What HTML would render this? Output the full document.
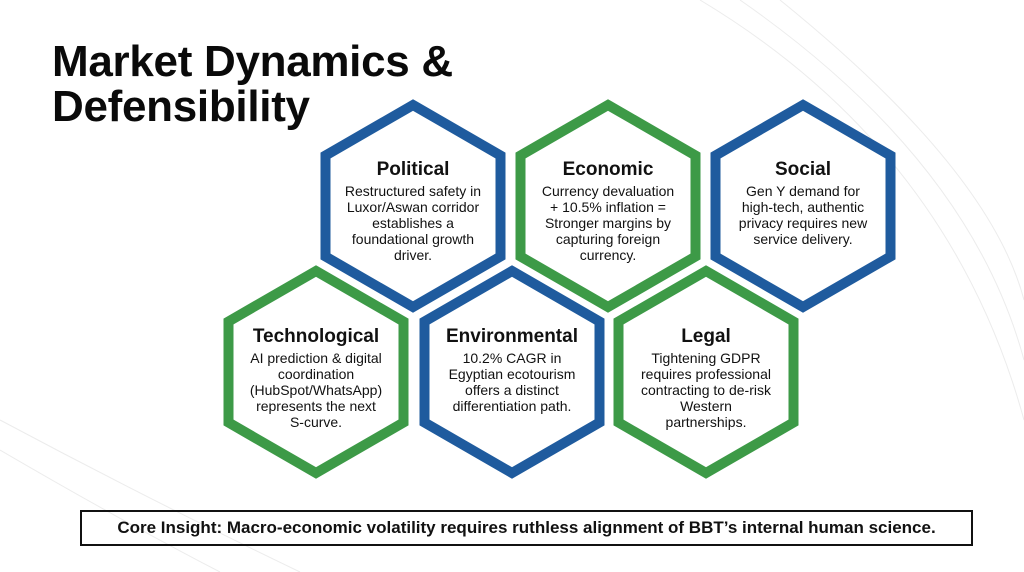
<!DOCTYPE html>
<html><head><meta charset="utf-8"><style>
html,body{margin:0;padding:0;background:#fff;}
body{width:1024px;height:572px;position:relative;overflow:hidden;font-family:"Liberation Sans",Arial,sans-serif;}
.t{position:absolute;left:52px;font-weight:bold;font-size:44px;color:#0a0a0a;letter-spacing:-0.3px;line-height:45px;}
.box{position:absolute;left:80px;top:510px;width:889px;height:32px;border:2px solid #111;font-weight:bold;font-size:17px;text-align:center;line-height:32px;color:#111;}
</style></head><body>
<svg width="1024" height="572" style="position:absolute;left:0;top:0">
<g fill="none" stroke="#ececec" stroke-width="1">
<path d="M700 0 Q950 150 1024 420"/><path d="M740 0 Q970 160 1024 360"/><path d="M780 0 Q990 170 1024 300"/>
<path d="M0 420 Q150 500 300 572"/><path d="M0 450 Q120 520 220 572"/>
</g>
<g stroke-width="10" fill="#fff" stroke-linejoin="miter">
<polygon stroke="#1f5b9e" points="413,105 500.5,155.5 500.5,256.5 413,307 325.5,256.5 325.5,155.5"/>
<polygon stroke="#3d9a47" points="608,105 695.5,155.5 695.5,256.5 608,307 520.5,256.5 520.5,155.5"/>
<polygon stroke="#1f5b9e" points="803,105 890.5,155.5 890.5,256.5 803,307 715.5,256.5 715.5,155.5"/>
<polygon stroke="#3d9a47" points="316,271 403.5,321.5 403.5,422.5 316,473 228.5,422.5 228.5,321.5"/>
<polygon stroke="#1f5b9e" points="512,271 599.5,321.5 599.5,422.5 512,473 424.5,422.5 424.5,321.5"/>
<polygon stroke="#3d9a47" points="706,271 793.5,321.5 793.5,422.5 706,473 618.5,422.5 618.5,321.5"/>
</g>
<g font-family="Liberation Sans, Arial, sans-serif" text-anchor="middle" fill="#111">
<g font-weight="bold" font-size="19">
<text x="413" y="175">Political</text><text x="608" y="175">Economic</text><text x="803" y="175">Social</text>
<text x="316" y="342">Technological</text><text x="512" y="342">Environmental</text><text x="706" y="342">Legal</text>
</g>
<g font-size="14">
<text x="413" y="196">Restructured safety in</text><text x="413" y="212">Luxor/Aswan corridor</text><text x="413" y="228">establishes a</text><text x="413" y="244">foundational growth</text><text x="413" y="260">driver.</text>
<text x="608" y="196">Currency devaluation</text><text x="608" y="212">+ 10.5% inflation =</text><text x="608" y="228">Stronger margins by</text><text x="608" y="244">capturing foreign</text><text x="608" y="260">currency.</text>
<text x="803" y="196">Gen Y demand for</text><text x="803" y="212">high-tech, authentic</text><text x="803" y="228">privacy requires new</text><text x="803" y="244">service delivery.</text>
<text x="316" y="363">AI prediction &amp; digital</text><text x="316" y="379">coordination</text><text x="316" y="395">(HubSpot/WhatsApp)</text><text x="316" y="411">represents the next</text><text x="316" y="427">S-curve.</text>
<text x="512" y="363">10.2% CAGR in</text><text x="512" y="379">Egyptian ecotourism</text><text x="512" y="395">offers a distinct</text><text x="512" y="411">differentiation path.</text>
<text x="706" y="363">Tightening GDPR</text><text x="706" y="379">requires professional</text><text x="706" y="395">contracting to de-risk</text><text x="706" y="411">Western</text><text x="706" y="427">partnerships.</text>
</g></g>
</svg>
<div class="t" style="top:39px">Market Dynamics &amp;</div>
<div class="t" style="top:84px">Defensibility</div>
<div class="box">Core Insight: Macro-economic volatility requires ruthless alignment of BBT’s internal human science.</div>
</body></html>
